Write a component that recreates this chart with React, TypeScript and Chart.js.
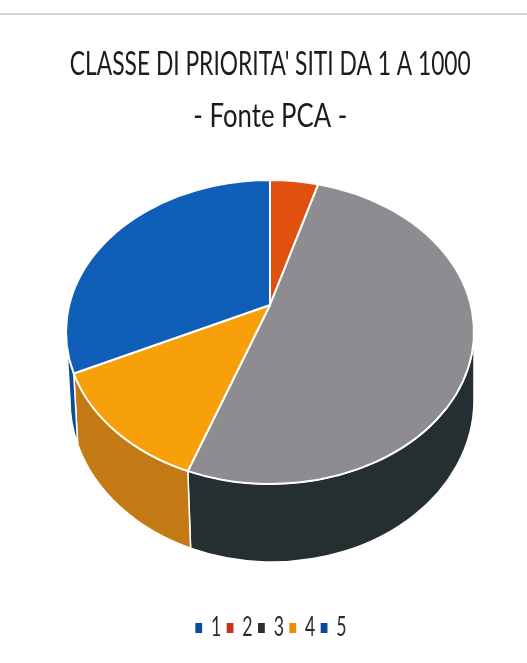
import React, { useEffect, useRef } from "react";
import { Chart, registerables } from "chart.js";

Chart.register(...registerables);

const categories = ["1", "2", "3", "4", "5"];
const siteCounts = [0, 38, 528, 140, 294];
const titleLines = ["CLASSE DI PRIORITA' SITI DA 1 A 1000", "- Fonte PCA -"];
const topColors = ["#0f5fb8", "#e0500f", "#8e8c90", "#f7a00a", "#0f5fb8"];
const legendColors = ["#0b4a9c", "#c8321c", "#2b2f33", "#f08a0c", "#0b4a9c"];
const sideColors = ["#0a4c98", "#a83c0c", "#252e31", "#c47a14", "#0a4c98"];

const FONT = "Lato, 'Open Sans', sans-serif";

function squeeze(box: any, ctx: any, centre: number, sx: number) {
  if (box.__squeezed) return;
  box.__squeezed = true;
  const original = box.draw.bind(box);
  box.draw = (...args: any[]) => {
    ctx.save();
    ctx.translate(centre, 0);
    ctx.scale(sx, 1);
    ctx.translate(-centre, 0);
    original(...args);
    ctx.restore();
  };
}

const narrowText = {
  id: "narrowText",
  beforeDraw(chart: any) {
    squeeze(chart.titleBlock, chart.ctx, 271.5, 0.78);
    squeeze(chart.legend, chart.ctx, 273, 0.68);
  },
};

const pie3d = {
  id: "pie3d",
  beforeDatasetDraw(chart: any) {
    const { ctx } = chart;
    const arcs = chart.getDatasetMeta(0).data;
    const rx = arcs[0].outerRadius;
    const cx = arcs[0].x;
    const top = { x: cx, y: 332, rx, ry: 152 };
    const low = { x: cx + 2, y: 400, rx: rx - 2, ry: 162 };
    const apex = { x: cx, y: 305 };

    ctx.save();
    ctx.lineJoin = "round";
    ctx.strokeStyle = "#ffffff";

    arcs.forEach((arc: any, i: number) => {
      const a0 = Math.max(arc.startAngle, 0);
      const a1 = Math.min(arc.endAngle, Math.PI);
      if (a1 <= a0) return;
      ctx.beginPath();
      ctx.ellipse(top.x, top.y, top.rx, top.ry, 0, a0, a1);
      ctx.ellipse(low.x, low.y, low.rx, low.ry, 0, a1, a0, true);
      ctx.closePath();
      ctx.fillStyle = sideColors[i];
      ctx.fill();
      ctx.lineWidth = 1.5;
      ctx.stroke();
    });

    arcs.forEach((arc: any, i: number) => {
      if (arc.endAngle - arc.startAngle <= 0) return;
      ctx.beginPath();
      ctx.moveTo(apex.x, apex.y);
      ctx.ellipse(top.x, top.y, top.rx, top.ry, 0, arc.startAngle, arc.endAngle);
      ctx.closePath();
      ctx.fillStyle = topColors[i];
      ctx.fill();
      ctx.lineWidth = 2;
      ctx.stroke();
    });

    ctx.restore();
    return false;
  },
};

export default function App() {
  const ref = useRef<HTMLCanvasElement>(null);

  useEffect(() => {
    const chart = new Chart(ref.current as HTMLCanvasElement, {
      type: "pie",
      data: {
        labels: categories,
        datasets: [
          {
            data: siteCounts,
            backgroundColor: legendColors,
            borderWidth: 0,
            radius: 204,
            clip: false,
          } as any,
        ],
      },
      options: {
        animation: false,
        responsive: false,
        devicePixelRatio: 1,
        layout: { padding: { left: 13, right: 0, top: 38, bottom: 12 } },
        plugins: {
          tooltip: { enabled: false },
          title: {
            display: true,
            text: titleLines,
            color: "#1c1c1c",
            font: { family: FONT, size: 33, weight: "normal", lineHeight: 1.58 },
            padding: { top: 0, bottom: 10 },
          },
          legend: {
            position: "bottom",
            labels: {
              color: "#2a2a2a",
              font: { family: FONT, size: 26 },
              usePointStyle: true,
              pointStyle: "rect",
              boxWidth: 10,
              boxHeight: 10,
              padding: 8,
            },
          },
        },
      } as any,
      plugins: [narrowText, pie3d],
    });
    return () => chart.destroy();
  }, []);

  return (
    <div style={{ position: "absolute", left: 0, top: 0, width: 527, height: 663, background: "#ffffff", overflow: "hidden" }}>
      <div style={{ position: "absolute", left: 0, top: 13, width: 527, height: 2, background: "#d4d4d4" }} />
      <canvas ref={ref} width={527} height={663} style={{ position: "absolute", left: 0, top: 0, display: "block", filter: "blur(0.4px)" }} />
    </div>
  );
}
